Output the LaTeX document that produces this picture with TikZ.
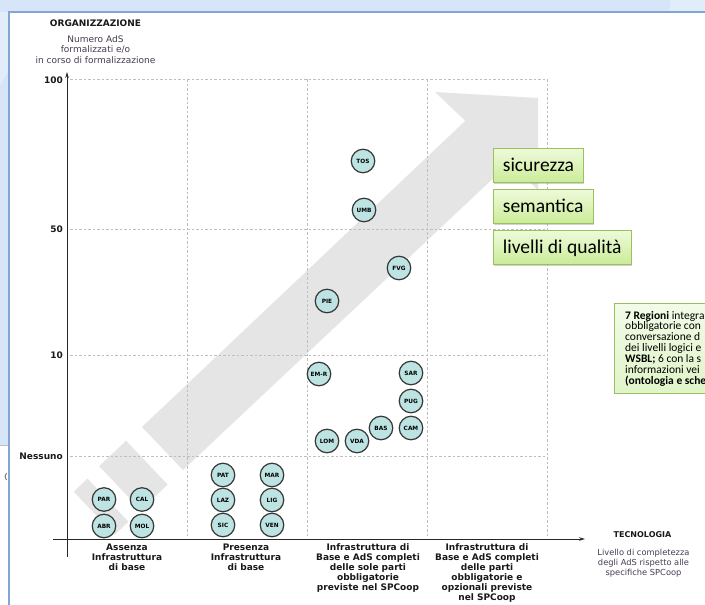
\documentclass[tikz,border=0pt]{standalone}
\usepackage{fontspec}
\setmainfont{DejaVu Sans}
\newfontfamily\calibri{Carlito}
\usetikzlibrary{arrows.meta,shadows,shadings}
\definecolor{slidebg}{RGB}{214,229,248}
\definecolor{slidelight}{RGB}{226,237,251}
\definecolor{panelborder}{RGB}{130,165,212}
\definecolor{bandgray}{RGB}{229,229,229}
\definecolor{gridgray}{RGB}{190,190,190}
\definecolor{regfill}{RGB}{190,227,227}
\definecolor{regdraw}{RGB}{55,55,55}
\definecolor{boxtop}{RGB}{238,250,218}
\definecolor{boxbot}{RGB}{202,236,152}
\definecolor{boxdraw}{RGB}{155,192,95}
\definecolor{notetop}{RGB}{242,251,232}
\definecolor{notebot}{RGB}{224,244,200}
\definecolor{labgray}{RGB}{70,60,82}
\tikzset{
  gridline/.style={gridgray, dash pattern=on 2.5pt off 2pt, line width=0.6pt},
  reg/.style={circle, draw=regdraw, line width=1.2pt, fill=regfill, minimum size=23.5pt,
    inner sep=0pt, font=\fontsize{5.8}{6.5}\selectfont\bfseries, text=black},
  collabel/.style={font=\fontsize{9}{10}\selectfont\bfseries, align=center, anchor=north,
    inner sep=0pt, text=black!90},
  ylab/.style={font=\fontsize{9}{10}\selectfont\bfseries, anchor=east, inner sep=0pt, text=black!90},
  sublab/.style={font=\fontsize{9}{10.5}\selectfont, align=center, inner sep=0pt, text=labgray},
  greenbox/.style={draw=boxdraw, line width=0.8pt, top color=boxtop, bottom color=boxbot,
    anchor=north west, minimum height=34pt, inner xsep=9.5pt, inner ysep=0pt,
    text height=15.5pt, text depth=2.5pt, font=\calibri\fontsize{19.5}{22}\selectfont,
    drop shadow={shadow xshift=0.8pt, shadow yshift=-1.5pt, opacity=0.35}},
  noteline/.style={anchor=base west, inner sep=0pt, font=\calibri\fontsize{11.5}{13}\selectfont},
  axisline/.style={black!85, line width=1pt, -{Stealth[length=6pt,width=3.5pt]}}
}
\begin{document}
\begin{tikzpicture}[x=1pt,y=-1pt]
\useasboundingbox (0,0) rectangle (705,605);
% slide background
\fill[slidebg] (0,0) rectangle (705,605);
\fill[slidelight] (670,0) rectangle (705,12);
\fill[slidelight] (0,12) -- (9,12) -- (9,70) -- (0,85) -- cycle;
\fill[white] (0,445) rectangle (9,605);
\draw[black!25, line width=0.5pt] (0,445) -- (9,445);
\draw[black!60, line width=0.8pt] (6.5,473) -- (5,476.5) -- (6.5,480);
% panel
\filldraw[fill=white, draw=panelborder, line width=1.2pt] (9,12) rectangle (720,620);

% big grey arrow
\fill[bandgray] (142,427) -- (465.3,120.8) -- (435,92) -- (538,98) -- (538,190) -- (509.5,163) -- (183,470) -- cycle;
\begin{scope}[shift={(142,427)}, x={(0.726pt,0.688pt)}, y={(0.688pt,-0.726pt)}]
  \fill[bandgray] (-58,-1) -- (-21,-1) -- (-21,59.4) -- (-58,59.4) -- cycle;
  \fill[bandgray] (-94,0) -- (-75,0) -- (-75,59.4) -- (-94,59.4) -- cycle;
\end{scope}

% grid
\foreach \yy in {79,229,355,456} \draw[gridline] (70,\yy) -- (547,\yy);
\foreach \xx in {187,307,427,547} \draw[gridline] (\xx,79) -- (\xx,537);

% axes
\coordinate (ybot) at (67,557);
\coordinate (ytop) at (67,72);
\coordinate (xleft) at (53,539);
\coordinate (xright) at (585,539);
\draw[axisline] (ybot) -- (ytop);
\draw[axisline] (xleft) -- (xright);

% axis titles
\node[font=\fontsize{9}{10}\selectfont\bfseries, inner sep=0pt, text=black!90] (org) at (95.5,23) {ORGANIZZAZIONE};
\node[sublab, anchor=north] (orgsub) at (95.5,35) {Numero AdS\\formalizzati e/o\\in corso di formalizzazione};
\node[font=\fontsize{8}{9}\selectfont\bfseries, inner sep=0pt, text=black!90] (tec) at (642.5,535) {TECNOLOGIA};
\node[font=\fontsize{8.3}{10}\selectfont, align=center, inner sep=0pt, text=labgray, anchor=north] (tecsub) at (643.5,548.5) {Livello di completezza\\degli AdS rispetto alle\\specifiche SPCoop};

% y labels
\node[ylab] (y100) at (63,80) {100};
\node[ylab] (y50) at (63,229) {50};
\node[ylab] (y10) at (63,355) {10};
\node[ylab] (y0) at (63,456) {Nessuno};

% column labels
\node[collabel] (c1) at (127,543.5) {Assenza\\Infrastruttura\\di base};
\node[collabel] (c2) at (246,543.5) {Presenza\\Infrastruttura\\di base};
\node[collabel] (c3) at (368,543.5) {Infrastruttura di\\Base e AdS completi\\delle sole parti\\obbligatorie\\previste nel SPCoop};
\node[collabel] (c4) at (487,543.5) {Infrastruttura di\\Base e AdS completi\\delle parti\\obbligatorie e\\opzionali previste\\nel SPCoop};

% regions
\node[reg] (TOS) at (363,161) {TOS};
\node[reg] (UMB) at (364,210) {UMB};
\node[reg] (FVG) at (399,268) {FVG};
\node[reg] (PIE) at (327,301) {PIE};
\node[reg] (EMR) at (319,374) {EM-R};
\node[reg] (SAR) at (411,373) {SAR};
\node[reg] (PUG) at (411,401) {PUG};
\node[reg] (CAM) at (411,428) {CAM};
\node[reg] (BAS) at (381,428) {BAS};
\node[reg] (LOM) at (327,441) {LOM};
\node[reg] (VDA) at (357,441) {VDA};
\node[reg] (PAT) at (223,475) {PAT};
\node[reg] (LAZ) at (223,500) {LAZ};
\node[reg] (SIC) at (223,525) {SIC};
\node[reg] (MAR) at (272,475) {MAR};
\node[reg] (LIG) at (272,500) {LIG};
\node[reg] (VEN) at (272,525) {VEN};
\node[reg] (PAR) at (104,499.5) {PAR};
\node[reg] (ABR) at (104,526) {ABR};
\node[reg] (CAL) at (142,499.5) {CAL};
\node[reg] (MOL) at (142,526) {MOL};

% green boxes
\node[greenbox] (sic) at (493,148) {sicurezza};
\node[greenbox] (sem) at (493,189) {semantica};
\node[greenbox] (liv) at (493,230) {livelli di qualità};

% note box (cut at right edge)
\shade[top color=notetop, bottom color=notebot] (614,303) rectangle (712,393);
\draw[boxdraw, line width=0.9pt] (614,303) rectangle (712,393);
\node[noteline] (n1) at (625,319) {\bfseries 7 Regioni\mdseries{} integra};
\node[noteline] (n2) at (625,329.9) {obbligatorie con};
\node[noteline] (n3) at (625,340.8) {conversazione d};
\node[noteline] (n4) at (625,351.7) {dei livelli logici e};
\node[noteline] (n5) at (625,362.6) {\bfseries WSBL;\mdseries{} 6 con la s};
\node[noteline] (n6) at (625,373.5) {informazioni vei};
\node[noteline] (n7) at (625,384.4) {\bfseries (ontologia e sche};
\end{tikzpicture}
\end{document}
